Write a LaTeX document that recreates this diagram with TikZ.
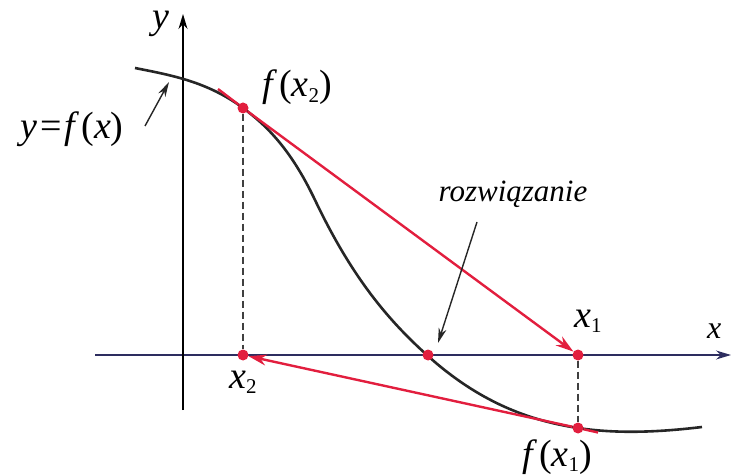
\documentclass[tikz,border=0pt]{standalone}
\usepackage{fontspec}
\setmainfont{Liberation Serif}
\usetikzlibrary{arrows.meta}
\definecolor{myred}{RGB}{226,30,62}
\definecolor{axisblue}{RGB}{45,45,95}
\newcommand{\lsub}[1]{\raisebox{-0.3ex}{\fontsize{21}{21}\selectfont #1}}
\newcommand{\vi}[1]{\textit{#1}}
\begin{document}
\begin{tikzpicture}[x=1pt,y=-1pt,
  lbl/.style={font=\fontsize{38}{38}\selectfont, inner sep=0pt, anchor=base west},
  dot/.style={circle, fill=myred, minimum size=11pt, inner sep=0pt},
  redarrow/.style={myred, line width=2.4pt, -{Stealth[length=18pt,width=11pt]}},
  redline/.style={myred, line width=2.4pt},
  axis/.style={line width=1.5pt, -{Stealth[length=15pt,width=9pt]}},
  curve/.style={line width=2.6pt, black!85},
  guide/.style={line width=1.6pt, dash pattern=on 7pt off 4pt, black!75},
  pointer/.style={line width=1.4pt, black!85, -{Stealth[length=15pt,width=8pt]}}]
\useasboundingbox (0,0) rectangle (732,476);
% axes
\coordinate (xs) at (95,355);
\coordinate (xe) at (731,355);
\coordinate (ys) at (183,410);
\coordinate (ye) at (183,14);
\draw[axis, axisblue] (xs) -- (xe);
\draw[axis, black] (ys) -- (ye);
% curve
\coordinate (cA) at (135,68);
\coordinate (cB) at (243,108);
\coordinate (cC) at (315,200);
\coordinate (cD) at (428,356);
\coordinate (cE) at (578,428);
\coordinate (cF) at (702,427);
\draw[curve] (cA) .. controls (171,75.2) and (207,81.4) .. (cB)
  .. controls (267,125.8) and (291,149.6) .. (cC)
  .. controls (353,279.8) and (390,321.8) .. (cD)
  .. controls (478,401) and (528,420.5) .. (cE)
  .. controls (619,434.2) and (661,431.9) .. (cF);
% points
\node[dot] (P2) at (243,108) {};
\node[dot] (X2) at (243,355) {};
\node[dot] (R) at (428,355) {};
\node[dot] (X1) at (578,355) {};
\node[dot] (F1) at (578,428) {};
\coordinate (T2) at (218,89);
\coordinate (T1) at (598,432.5);
% dashed guides
\draw[guide] (P2) -- (X2);
\draw[guide] (X1) -- (F1);
% secant/tangent lines
\draw[redline] (T2) -- (P2);
\draw[redarrow] (P2) -- (X1);
\draw[redline] (T1) -- (F1);
\draw[redarrow] (F1) -- (X2);
% labels
\node[lbl] (ylab) at (152,29) {\vi{y}};
\node[lbl, font=\fontsize{32}{32}\selectfont] (xlab) at (707,338) {\vi{x}};
\node[lbl] (fx2) at (262,97) {\vi{f}\kern2pt(\vi{x}\lsub{2})};
\node[lbl] (yfx) at (20,139) {\vi{y}\kern3pt=\kern3pt\vi{f}\kern2pt(\vi{x})};
\node[lbl, anchor=center, font=\fontsize{31}{31}\selectfont\itshape] (roz) at (513,194) {rozwiązanie};
\node[lbl] (x1lab) at (574,327) {\vi{x}\lsub{1}};
\node[lbl] (x2lab) at (229,388) {\vi{x}\lsub{2}};
\node[lbl] (fx1) at (522,466) {\vi{f}\kern2pt(\vi{x}\lsub{1})};
% pointers
\coordinate (a1s) at (145,126);
\coordinate (a1e) at (169,82);
\coordinate (a2s) at (477,222);
\coordinate (a2e) at (438,343);
\draw[pointer] (a1s) -- (a1e);
\draw[pointer] (a2s) -- (a2e);
\end{tikzpicture}
\end{document}
